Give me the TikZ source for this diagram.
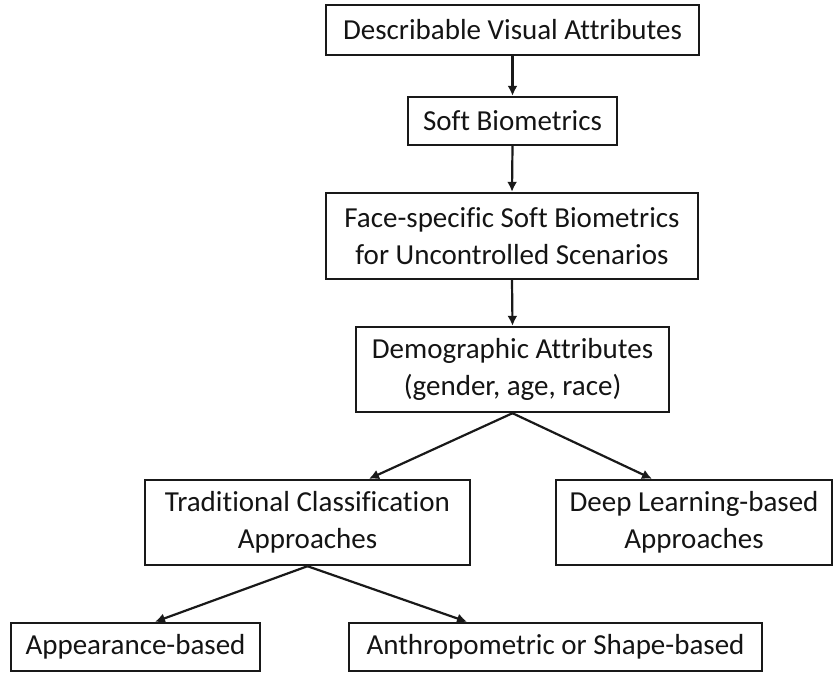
\documentclass[tikz,border=0pt]{standalone}
\usepackage{fontspec}
\setmainfont{Carlito}[Ligatures=NoCommon]
\usetikzlibrary{arrows.meta,calc}
\begin{document}
\begin{tikzpicture}[x=1pt,y=-1pt,
  box/.style={draw=black!90, line width=2.4pt, rectangle, align=center,
    inner sep=0pt, text=black!92, font=\fontsize{29}{37}\selectfont},
  link/.style={line width=2.2pt, draw=black!90,
    -{Latex[length=10pt,width=10pt]}}]
  \useasboundingbox (0,0) rectangle (836,673);

  \node[box, minimum width=373pt, minimum height=50pt] (n1) at (512.5,30)
    {Describable Visual Attributes};
  \node[box, minimum width=209pt, minimum height=48pt] (n2) at (512.5,121)
    {Soft Biometrics};
  \node[box, minimum width=372pt, minimum height=86pt] (n3) at (512,236)
    {Face-specific Soft Biometrics\\for Uncontrolled Scenarios};
  \node[box, minimum width=313pt, minimum height=85pt] (n4) at (512.5,369.5)
    {Demographic Attributes\\(gender, age, race)};
  \node[box, minimum width=325pt, minimum height=85pt] (n5) at (307.5,522.5)
    {Traditional Classification\\Approaches};
  \node[box, minimum width=276pt, minimum height=85pt] (n6) at (694,522.5)
    {Deep Learning-based\\Approaches};
  \node[box, minimum width=249pt, minimum height=48pt] (n7) at (135.5,647)
    {Appearance-based};
  \node[box, minimum width=413pt, minimum height=48pt] (n8) at (555.5,647)
    {Anthropometric or Shape-based};

  \draw[link] (n1.south) -- (n2.north);
  \draw[link] (n2.south) -- (n3.north);
  \draw[link] (n3.south) -- (n4.north);
  \draw[link] (n4.south) -- ($(n5.north)+(61.5,0)$);
  \draw[link] (n4.south) -- ($(n6.north)+(-42,0)$);
  \draw[link] (n5.south) -- ($(n7.north)+(19.5,0)$);
  \draw[link] (n5.south) -- ($(n8.north)+(-88.5,0)$);
\end{tikzpicture}
\end{document}
